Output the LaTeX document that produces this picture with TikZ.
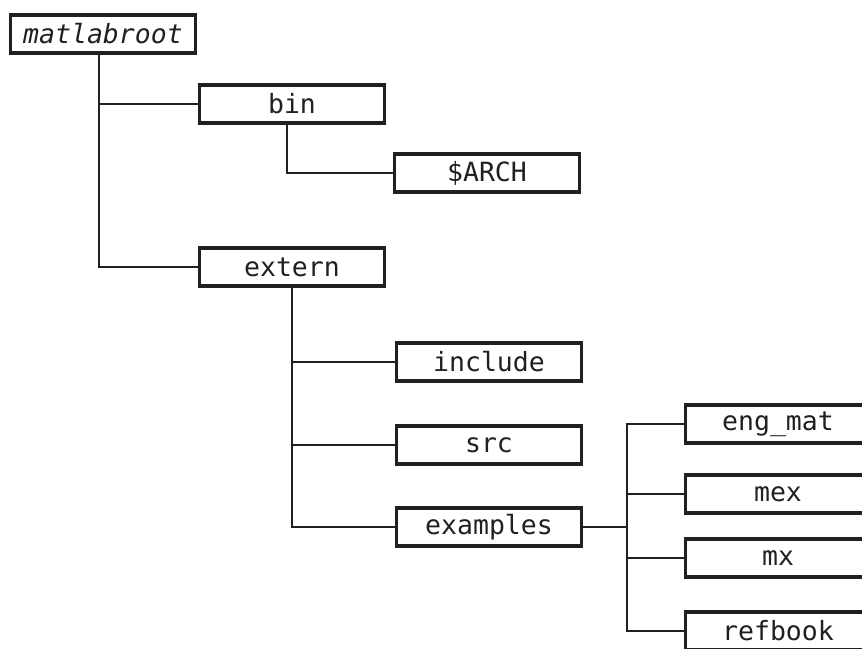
\documentclass[tikz,border=0pt]{standalone}
\usepackage{fontspec}
\setmonofont{DejaVu Sans Mono}
\usepackage{tikz}
\usetikzlibrary{positioning, calc}

\definecolor{ink}{HTML}{231F20}

\begin{document}
\begin{tikzpicture}[
        on grid,
        box/.style={draw=ink, line width=3.6pt, minimum width=185pt, minimum height=38pt,
                    inner sep=0pt, text=ink, font=\ttfamily\fontsize{26.5}{30}\selectfont},
        line/.style={draw=ink, line width=2.2pt}
    ]
    \clip (0,0) rectangle (862pt,-648pt);
    \useasboundingbox (0,0) rectangle (862pt,-648pt);

    % Nodes
    \node[box] (root) at (103pt,-34pt) {\itshape matlabroot};
    \node[box, below right=70pt and 189pt of root] (bin) {bin};
    \node[box, below right=69pt and 195pt of bin] (arch) {\$ARCH};
    \node[box, below=163pt of bin] (extern) {extern};
    \node[box, below right=95pt and 197pt of extern] (include) {include};
    \node[box, below=83pt of include] (src) {src};
    \node[box, below=82pt of src] (examples) {examples};
    \node[box, above right=103pt and 289pt of examples] (engmat) {eng\_mat};
    \node[box, below=70pt of engmat] (mex) {mex};
    \node[box, below=64pt of mex] (mx) {mx};
    \node[box, below=73pt of mx] (refbook) {refbook};
    \coordinate (fork) at ($(examples.east)+(44pt,0)$);

    % Lines
    \draw[line] ([xshift=-4pt]root.south) |- (bin.west);
    \draw[line] ([xshift=-4pt]root.south) |- (extern.west);
    \draw[line] ([xshift=-5pt]bin.south) |- (arch.west);
    \draw[line] (extern.south) |- (include.west);
    \draw[line] (extern.south) |- (src.west);
    \draw[line] (extern.south) |- (examples.west);
    \draw[line] (examples.east) -- (fork);
    \foreach \leaf in {engmat, mex, mx, refbook}
        \draw[line] (fork) |- (\leaf.west);

\end{tikzpicture}
\end{document}
